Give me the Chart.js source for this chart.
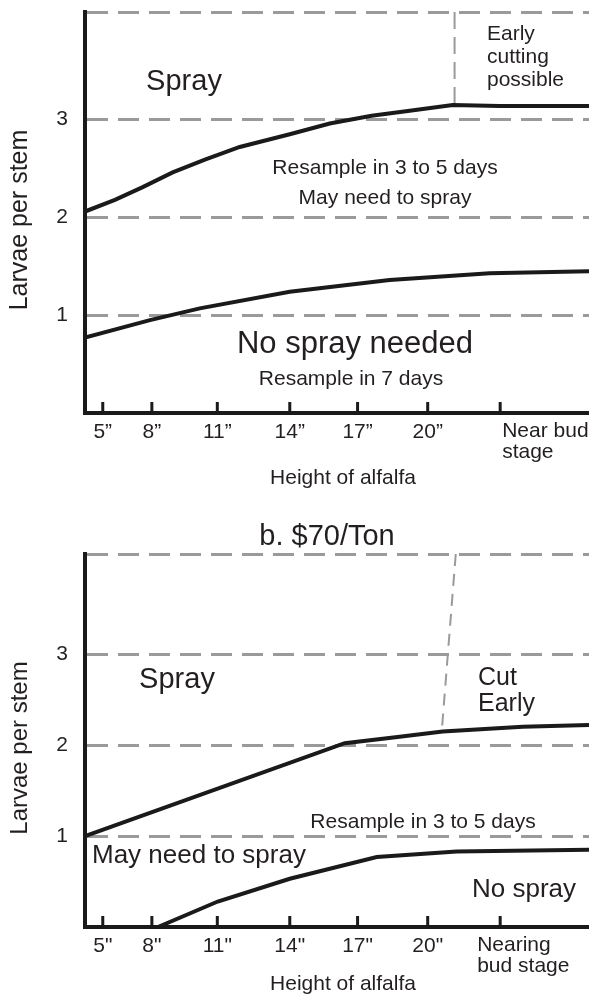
<!DOCTYPE html>
<html>
<head>
<meta charset="utf-8">
<script src="https://cdn.jsdelivr.net/npm/chart.js@4.4.1/dist/chart.umd.min.js"></script>
<style>
html, body { margin: 0; padding: 0; background: #fff; }
.wrap { position: relative; width: 589px; height: 995px; overflow: hidden; }
#chartA { position: absolute; left: 0; top: 0; }
#chartB { position: absolute; left: 0; top: 500px; }
</style>
</head>
<body>
<div class="wrap">
  <canvas id="chartA" width="589" height="500"></canvas>
  <canvas id="chartB" width="589" height="495"></canvas>
</div>
<script>
// x axis runs in "inches" of plant height, tick marks are not evenly spaced in the original
const xMin = 5.24, xMax = 26.8;
const tickPositions = [6.0, 8.1, 10.9, 14, 16.9, 19.9, 23.0];
const tickLabelsA = ['5\u201d', '8\u201d', '11\u201d', '14\u201d', '17\u201d', '20\u201d', ['Near bud', 'stage']];
const tickLabelsB = ['5"', '8"', '11"', '14"', '17"', '20"', ['Nearing', 'bud stage']];
const yTicks = [1, 2, 3];
const yMax = 4.1;

// a. upper threshold (spray)
const sprayAx = [5.24, 6.52, 7.71, 8.99, 10.37, 11.86, 14.0, 15.71, 17.5, 19.13, 20.97, 22.97, 26.8];
const sprayAy = [2.06, 2.18, 2.31, 2.46, 2.59, 2.72, 2.85, 2.96, 3.04, 3.09, 3.15, 3.14, 3.14];
// a. lower threshold (no spray)
const noSprayAx = [5.24, 8.02, 10.15, 14.0, 18.27, 22.55, 26.8];
const noSprayAy = [0.77, 0.95, 1.07, 1.24, 1.36, 1.43, 1.45];
// a. early cutting divider
const cutAx = [21.05, 21.05];
const cutAy = [4.1, 3.15];

// b. upper threshold
const sprayBx = [5.24, 16.35, 18.7, 20.54, 23.96, 26.8];
const sprayBy = [1.0, 2.02, 2.09, 2.15, 2.2, 2.22];
// b. lower threshold
const noSprayBx = [8.36, 10.92, 14.0, 17.72, 21.14, 26.8];
const noSprayBy = [0, 0.28, 0.53, 0.77, 0.83, 0.85];
// b. cut early divider
const cutBx = [21.1, 20.5];
const cutBy = [4.1, 2.15];

const FONT = "'Liberation Sans', Arial, Helvetica, sans-serif";
const INK = '#231f20';

function pts(xs, ys) {
  return xs.map((x, i) => ({x: x, y: ys[i]}));
}

function curve(xs, ys) {
  return {data: pts(xs, ys), borderColor: '#1a1a1a', borderWidth: 4, pointRadius: 0, tension: 0, fill: false};
}

function divider(xs, ys, dash) {
  return {data: pts(xs, ys), borderColor: '#9a9a9a', borderWidth: 2, borderDash: dash, pointRadius: 0, tension: 0, fill: false};
}

function textPlugin(cfg) {
  return {
    id: 'textLayer',
    afterDraw(chart) {
      const ctx = chart.ctx, xs = chart.scales.x, area = chart.chartArea;
      ctx.save();
      // tick marks pointing up from the axis
      ctx.strokeStyle = '#1a1a1a';
      ctx.lineWidth = 3;
      tickPositions.forEach(v => {
        const px = xs.getPixelForValue(v);
        ctx.beginPath();
        ctx.moveTo(px, area.bottom);
        ctx.lineTo(px, area.bottom - 11);
        ctx.stroke();
      });
      ctx.fillStyle = INK;
      ctx.textBaseline = 'alphabetic';
      ctx.font = '21px ' + FONT;
      cfg.tickLabels.forEach((lab, i) => {
        const px = xs.getPixelForValue(tickPositions[i]);
        if (Array.isArray(lab)) {
          ctx.textAlign = 'left';
          lab.forEach((line, j) => ctx.fillText(line, px + cfg.lastDx, cfg.tickBase - 1 + j * 21));
        } else {
          ctx.textAlign = 'center';
          ctx.fillText(lab, px, cfg.tickBase);
        }
      });
      ctx.textAlign = 'center';
      ctx.fillText('Height of alfalfa', 343, cfg.xTitleBase);
      // y title
      ctx.save();
      ctx.translate(20, cfg.yTitleY);
      ctx.rotate(-Math.PI / 2);
      ctx.font = cfg.yTitleSize + 'px ' + FONT;
      ctx.textBaseline = 'middle';
      ctx.fillText('Larvae per stem', 0, 0);
      ctx.restore();
      // region notes
      cfg.notes.forEach(n => {
        ctx.font = n.size + 'px ' + FONT;
        ctx.textAlign = n.align || 'center';
        ctx.fillText(n.text, n.x, n.y);
      });
      ctx.restore();
    }
  };
}

function makeChart(id, datasets, cfg) {
  return new Chart(document.getElementById(id), {
    type: 'line',
    data: {datasets: datasets},
    options: {
      responsive: false,
      animation: false,
      events: [],
      layout: {padding: {top: cfg.top, left: 0, right: 0, bottom: 0}},
      plugins: {legend: {display: false}, tooltip: {enabled: false}},
      scales: {
        x: {
          type: 'linear', min: xMin, max: xMax,
          afterFit: s => { s.height = cfg.xHeight; s.paddingLeft = 0; s.paddingRight = 0; },
          grid: {display: false},
          border: {display: true, color: '#1a1a1a', width: 4},
          ticks: {display: false}
        },
        y: {
          type: 'linear', min: 0, max: yMax,
          afterFit: s => { s.width = 85; s.paddingTop = 0; s.paddingBottom = 0; },
          afterBuildTicks: s => { s.ticks = yTicks.concat([yMax]).map(v => ({value: v})); },
          grid: {color: '#9a9a9a', lineWidth: 3, drawTicks: false},
          border: {display: true, color: '#1a1a1a', width: 4, dash: [21, 10]},
          ticks: {
            padding: 17, color: INK,
            font: {size: 21, family: FONT},
            callback: v => yTicks.includes(v) ? String(v) : ''
          }
        }
      }
    },
    plugins: [textPlugin(cfg)]
  });
}

makeChart('chartA', [
  curve(sprayAx, sprayAy),
  curve(noSprayAx, noSprayAy),
  divider(cutAx, cutAy, [17, 8])
], {
  top: 12, xHeight: 87, tickLabels: tickLabelsA, lastDx: 2, tickBase: 438, xTitleBase: 484,
  yTitleY: 220, yTitleSize: 25,
  notes: [
    {text: 'Spray', x: 184, y: 90, size: 29},
    {text: 'Early', x: 487, y: 40, size: 21, align: 'left'},
    {text: 'cutting', x: 487, y: 63, size: 21, align: 'left'},
    {text: 'possible', x: 487, y: 86, size: 21, align: 'left'},
    {text: 'Resample in 3 to 5 days', x: 385, y: 174, size: 21},
    {text: 'May need to spray', x: 385, y: 204, size: 21},
    {text: 'No spray needed', x: 355, y: 353, size: 31},
    {text: 'Resample in 7 days', x: 351, y: 385, size: 21}
  ]
});

makeChart('chartB', [
  curve(sprayBx, sprayBy),
  curve(noSprayBx, noSprayBy),
  divider(cutBx, cutBy, [12, 8])
], {
  top: 54, xHeight: 68, tickLabels: tickLabelsB, lastDx: -23, tickBase: 452, xTitleBase: 490,
  yTitleY: 248, yTitleSize: 24,
  notes: [
    {text: 'b. $70/Ton', x: 327, y: 45, size: 29},
    {text: 'Spray', x: 177, y: 188, size: 29},
    {text: 'Cut', x: 478, y: 185, size: 25, align: 'left'},
    {text: 'Early', x: 478, y: 211, size: 25, align: 'left'},
    {text: 'Resample in 3 to 5 days', x: 423, y: 328, size: 21},
    {text: 'May need to spray', x: 92, y: 363, size: 26, align: 'left'},
    {text: 'No spray', x: 524, y: 397, size: 26}
  ]
});
</script>
</body>
</html>
